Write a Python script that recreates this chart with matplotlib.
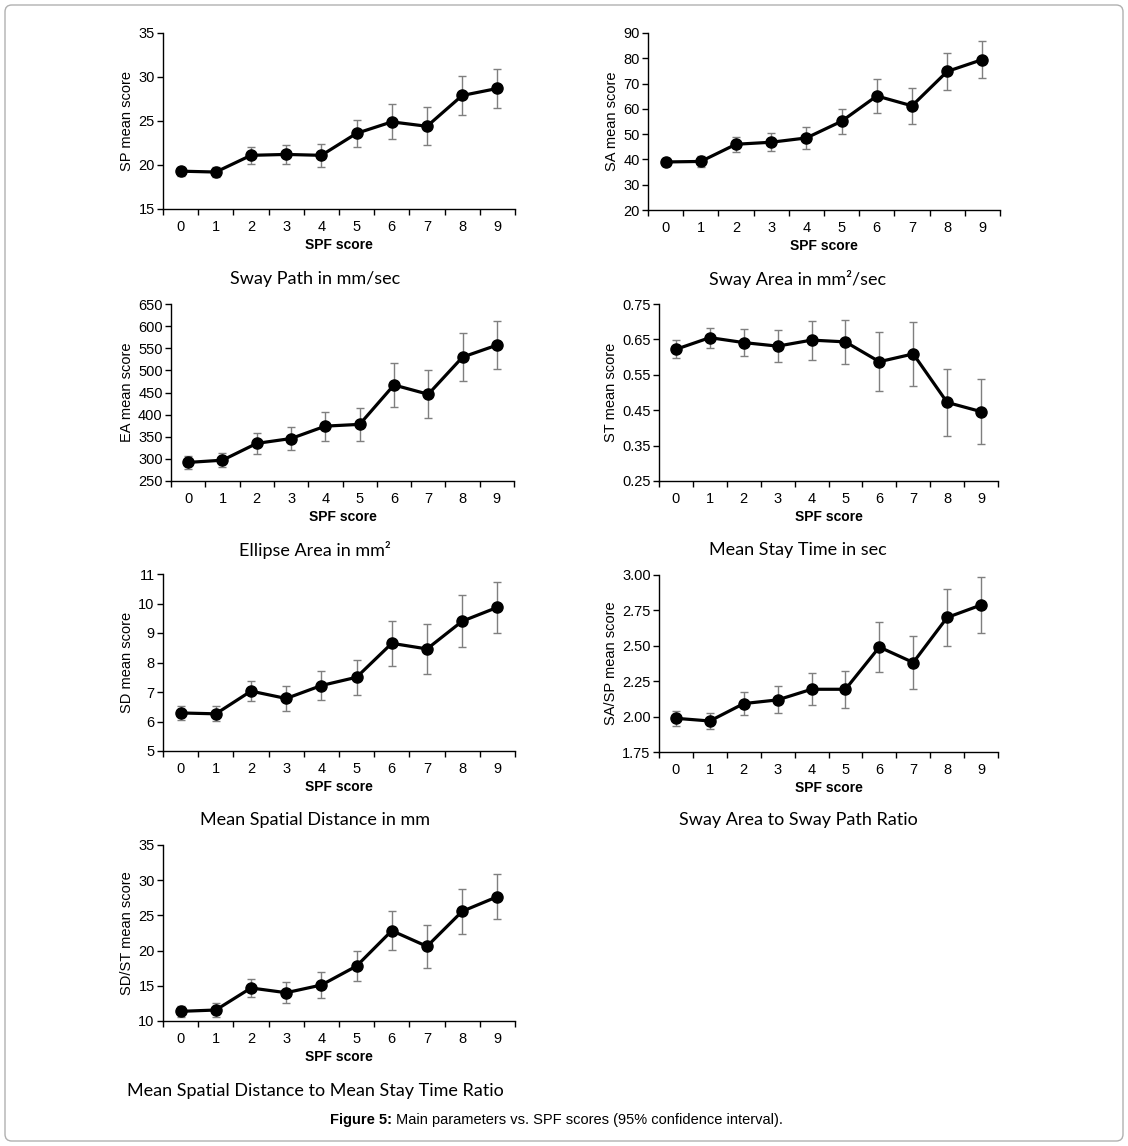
import matplotlib
matplotlib.use("Agg")
import matplotlib.pyplot as plt
from matplotlib.patches import FancyBboxPatch
from matplotlib.ticker import FormatStrFormatter, FixedLocator
import numpy as np

plt.rcParams['font.family'] = ['Liberation Sans', 'DejaVu Sans']

W, H = 1128, 1146
spf = list(range(10))

# Sway Path (SP)
sp_mean = [19.3, 19.2, 21.1, 21.2, 21.1, 23.6, 24.9, 24.4, 27.9, 28.7]
sp_err = [0.5, 0.6, 0.95, 1.05, 1.3, 1.5, 2.0, 2.15, 2.25, 2.2]

# Sway Area (SA)
sa_mean = [39.0, 39.2, 46.0, 46.8, 48.5, 55.1, 65.1, 61.2, 74.8, 79.5]
sa_err = [1.6, 2.0, 2.9, 3.5, 4.4, 5.0, 6.6, 7.1, 7.4, 7.3]

# Ellipse Area (EA)
ea_mean = [292, 297, 335, 346, 374, 378, 467, 446, 530, 557]
ea_err = [14, 16, 23, 27, 33, 37, 50, 54, 55, 55]

# Mean Stay Time (ST)
st_mean = [0.622, 0.655, 0.641, 0.631, 0.648, 0.643, 0.587, 0.609, 0.472, 0.446]
st_err = [0.025, 0.028, 0.039, 0.045, 0.055, 0.063, 0.084, 0.091, 0.094, 0.092]

# Mean Spatial Distance (SD)
sd_mean = [6.29, 6.26, 7.03, 6.78, 7.22, 7.50, 8.65, 8.46, 9.40, 9.87]
sd_err = [0.23, 0.25, 0.35, 0.41, 0.50, 0.59, 0.77, 0.85, 0.88, 0.87]

# SA/SP ratio
sasp_mean = [1.988, 1.969, 2.092, 2.118, 2.193, 2.193, 2.491, 2.382, 2.700, 2.788]
sasp_err = [0.052, 0.058, 0.079, 0.095, 0.114, 0.132, 0.175, 0.187, 0.200, 0.197]

# SD/ST ratio
sdst_mean = [11.37, 11.56, 14.69, 14.02, 15.11, 17.81, 22.83, 20.60, 25.58, 27.66]
sdst_err = [0.83, 0.95, 1.28, 1.5, 1.87, 2.18, 2.8, 3.1, 3.2, 3.17]

panels = [
    # (left, right, top, bottom) px, mean, err, ylabel, ylim, ystep, fmt, title, title pos
    ((163, 515, 33, 209), sp_mean, sp_err, "SP mean score", (15, 35), 5, "%d",
     "Sway Path in mm/sec", (315, 279)),
    ((648, 1000, 33, 210), sa_mean, sa_err, "SA mean score", (20, 90), 10, "%d",
     "Sway Area in mm\u00b2/sec", (798, 279)),
    ((171, 514, 304, 481), ea_mean, ea_err, "EA mean score", (250, 650), 50, "%d",
     "Ellipse Area in mm\u00b2", (315, 550)),
    ((659, 998, 304, 481), st_mean, st_err, "ST mean score", (0.25, 0.75), 0.1, "%.2f",
     "Mean Stay Time in sec", (798, 550)),
    ((163, 515, 574, 751), sd_mean, sd_err, "SD mean score", (5, 11), 1, "%d",
     "Mean Spatial Distance in mm", (315, 820)),
    ((659, 998, 575, 752), sasp_mean, sasp_err, "SA/SP mean score", (1.75, 3.0), 0.25, "%.2f",
     "Sway Area to Sway Path Ratio", (798, 820)),
    ((163, 515, 845, 1021), sdst_mean, sdst_err, "SD/ST mean score", (10, 35), 5, "%d",
     "Mean Spatial Distance to Mean Stay Time Ratio", (315, 1091)),
]

fig = plt.figure(figsize=(W / 100, H / 100), dpi=100)

for (l, r, t, b), mean, err, ylab, ylim, step, fmt, title, (tx, ty) in panels:
    ax = fig.add_axes([l / W, 1 - b / H, (r - l) / W, (b - t) / H])
    ax.errorbar(spf, mean, yerr=err, fmt="none", ecolor="#7f7f7f", elinewidth=1.0,
                capsize=3, capthick=1.0, zorder=2)
    ax.plot(spf, mean, color="black", lw=2.3, marker="o", ms=8, zorder=3)
    ax.set_xlim(-0.5, 9.5)
    ax.set_ylim(*ylim)
    ax.set_yticks(np.arange(ylim[0], ylim[1] + step / 2, step))
    ax.yaxis.set_major_formatter(FormatStrFormatter(fmt))
    ax.xaxis.set_major_locator(FixedLocator(np.arange(-0.5, 10, 1)))
    ax.xaxis.set_major_formatter(plt.NullFormatter())
    ax.xaxis.set_minor_locator(FixedLocator(spf))
    ax.set_xticklabels([str(v) for v in spf], minor=True)
    ax.tick_params(axis="x", which="minor", length=0, labelsize=10.5, pad=8)
    ax.tick_params(axis="x", which="major", length=4, width=1, direction="out")
    ax.tick_params(axis="y", length=4, width=1, labelsize=10.5, pad=2)
    for s in ["top", "right"]:
        ax.spines[s].set_visible(False)
    for s in ["left", "bottom"]:
        ax.spines[s].set_linewidth(1.0)
    ax.set_xlabel("SPF score", fontsize=10, fontweight="bold", labelpad=3)
    ax.set_ylabel(ylab, fontsize=10.5, labelpad=3)
    fig.text(tx / W, 1 - ty / H, title, family=["Lato", "DejaVu Sans"], fontsize=13,
             ha="center", va="center")

fig.text(330 / W, 1 - 1120 / H, "Figure 5:", fontsize=10.5, fontweight="bold",
         ha="left", va="center")
fig.text(396 / W, 1 - 1120 / H, "Main parameters vs. SPF scores (95% confidence interval).",
         fontsize=10.5, ha="left", va="center")

border = FancyBboxPatch((5 / W, 5 / H), 1 - 10 / W, 1 - 10 / H,
                        boxstyle="round,pad=0,rounding_size=0.006",
                        transform=fig.transFigure, fill=False, edgecolor="#b0b0b0", lw=1.0)
fig.patches.append(border)

fig.savefig("out.png", dpi=100)
